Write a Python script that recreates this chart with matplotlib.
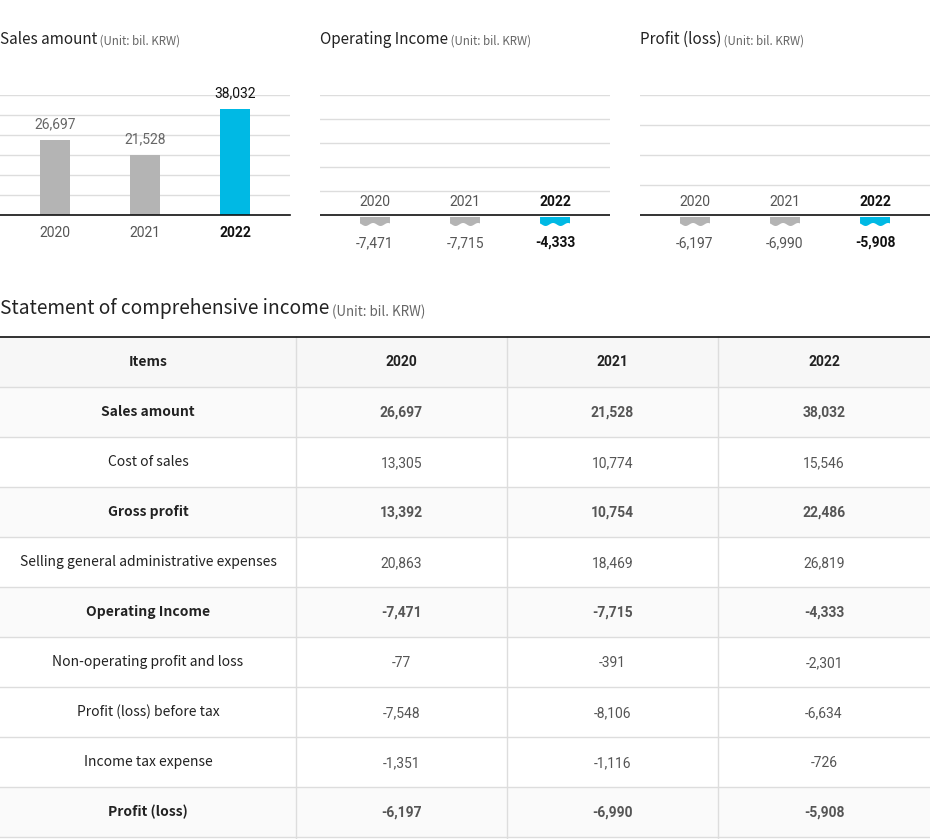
import numpy as np
import matplotlib
matplotlib.use('Agg')
import matplotlib.pyplot as plt
from matplotlib.patches import Polygon, Rectangle

plt.rcParams['font.family'] = ['Noto Sans CJK KR', 'DejaVu Sans']

# ---- data ----
years = ['2020', '2021', '2022']
items = ['Sales amount', 'Cost of sales', 'Gross profit',
         'Selling general administrative expenses', 'Operating Income',
         'Non-operating profit and loss', 'Profit (loss) before tax',
         'Income tax expense', 'Profit (loss)']
y2020 = [26697, 13305, 13392, 20863, -7471, -77, -7548, -1351, -6197]
y2021 = [21528, 10774, 10754, 18469, -7715, -391, -8106, -1116, -6990]
y2022 = [38032, 15546, 22486, 26819, -4333, -2301, -6634, -726, -5908]
bold_rows = [0, 2, 4, 8]

sales = [y2020[0], y2021[0], y2022[0]]
op_income = [y2020[4], y2021[4], y2022[4]]
profit = [y2020[8], y2021[8], y2022[8]]

GRAY = '#b4b4b4'
CYAN = '#00b9e4'
GRID = '#dddddd'
NUMFONT = ['Roboto', 'DejaVu Sans']

W, H = 930, 839
fig = plt.figure(figsize=(W / 100, H / 100), dpi=100)


def add_ax(x0, y0, x1, y1):
    # pixel box (top-left origin) -> figure axes
    return fig.add_axes([x0 / W, 1 - y1 / H, (x1 - x0) / W, (y1 - y0) / H])


def title(x, y, main, sub, size=11, subsize=8.3):
    t = fig.text(x / W, 1 - y / H, main, fontsize=size, color='#222222',
                 ha='left', va='baseline')
    plt.annotate(' ' + sub, xy=(1, 0), xycoords=t, va='bottom', ha='left',
                 fontsize=subsize, color='#666666', annotation_clip=False)


x = np.arange(3)
XLIM = (-0.611, 2.611)
BW = 0.333

# ---- chart 1 : sales amount ----
ax = add_ax(0, 95, 290, 215)
ymax = 43000
for g in np.linspace(0, ymax, 7)[1:]:
    ax.axhline(g, color=GRID, lw=1, zorder=0)
ax.bar(x, sales, width=BW, color=[GRAY, GRAY, CYAN], zorder=2)
for i, v in enumerate(sales):
    ax.annotate(f'{v:,}', (x[i], v), xytext=(0, 6.5), textcoords='offset points',
                ha='center', va='bottom', fontsize=10, family=NUMFONT,
                color='#111111' if i == 2 else '#666666')
ax.set_xlim(*XLIM)
ax.set_ylim(0, ymax)
ax.set_xticks(x)
ax.set_xticklabels(years, family=NUMFONT, fontsize=10, color='#555555')
ax.get_xticklabels()[2].set_fontweight('bold')
ax.get_xticklabels()[2].set_color('#111111')
ax.tick_params(axis='x', length=0, pad=8)
ax.set_yticks([])
for s in ['top', 'right', 'left']:
    ax.spines[s].set_visible(False)
ax.spines['bottom'].set_color('#111111')
ax.spines['bottom'].set_linewidth(1.2)


# ---- negative charts ----
def neg_chart(x0, vals, step):
    ax = add_ax(x0, 95, x0 + 290, 235)
    ax.set_xlim(*XLIM)
    ax.set_ylim(-2000, 12000)
    for g in np.arange(step, 12000 + 1, step):
        ax.axhline(g, color=GRID, lw=1, zorder=0)
    ax.axhline(0, color='#111111', lw=1.2, zorder=3)
    bars = ax.bar(x, vals, width=BW, color=[GRAY, GRAY, CYAN], zorder=2)
    t = np.linspace(0, 1, 80)
    for i, b in enumerate(bars):
        # broken-bar stub with a wavy bottom edge
        xs = x[i] - BW / 2 + t * BW
        bottom = -(800 + 300 * np.sin(2 * np.pi * t + 0.4) ** 2)
        pts = [(x[i] - BW / 2, -200)] + list(zip(xs, bottom)) + [(x[i] + BW / 2, -200)]
        clip = Polygon(pts, closed=True, transform=ax.transData)
        b.set_clip_path(clip)
        last = i == 2
        ax.text(x[i], 1300, years[i], ha='center', va='center', fontsize=10,
                family=NUMFONT, color='#111111' if last else '#555555',
                fontweight='bold' if last else 'normal')
        ax.text(x[i], -2800, f'{vals[i]:,}', ha='center', va='center',
                fontsize=10, family=NUMFONT,
                color='#111111' if last else '#555555',
                fontweight='bold' if last else 'normal')
    ax.axis('off')
    return ax


neg_chart(320, op_income, 2400)
neg_chart(640, profit, 3000)

title(0, 44, 'Sales amount', '(Unit: bil. KRW)')
title(320, 44, 'Operating Income', '(Unit: bil. KRW)')
title(640, 44, 'Profit (loss)', '(Unit: bil. KRW)')
title(0, 314, 'Statement of comprehensive income', '(Unit: bil. KRW)',
      size=13.8, subsize=9.6)

# ---- table ----
tx = add_ax(0, 336, 930, 839)
tx.set_xlim(0, 930)
tx.set_ylim(839, 336)
tx.axis('off')
col_edges = [0, 296, 507, 718, 930]
col_mid = [(col_edges[i] + col_edges[i + 1]) / 2 for i in range(4)]
row_h = 50
top = 337

# header
tx.add_patch(Rectangle((0, top), 930, row_h, color='#f7f7f7', lw=0))
for j, lab in enumerate(['Items'] + years):
    tx.text(col_mid[j], top + row_h / 2, lab, ha='center', va='center',
            fontsize=10, fontweight='bold', color='#222222',
            family=['Noto Sans CJK KR'] if j == 0 else NUMFONT)

for r, name in enumerate(items):
    y0 = top + row_h * (r + 1)
    bold = r in bold_rows
    if bold:
        tx.add_patch(Rectangle((0, y0), 930, row_h, color='#fafafa', lw=0))
    tx.text(col_mid[0], y0 + row_h / 2, name, ha='center', va='center',
            fontsize=10, color='#222222',
            fontweight='bold' if bold else 'normal')
    for j, col in enumerate([y2020, y2021, y2022]):
        tx.text(col_mid[j + 1], y0 + row_h / 2 + 1, f'{col[r]:,}', ha='center',
                va='center', fontsize=10, family=NUMFONT, color='#555555',
                fontweight='bold' if bold else 'normal')

for r in range(1, len(items) + 2):
    tx.axhline(top + row_h * r, color=GRID, lw=1)
for c in col_edges[1:-1]:
    tx.axvline(c, ymin=0, ymax=1, color=GRID, lw=1)
tx.axhline(336.5, color='#222222', lw=1.3)

fig.savefig('out.png', dpi=100)
